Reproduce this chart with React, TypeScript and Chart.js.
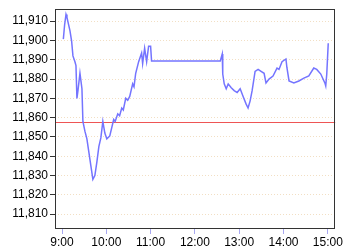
import React, { useEffect, useRef } from "react";
import { Chart, registerables } from "chart.js";

Chart.register(...registerables);

// minutes after 9:00
const times = [
  1.8, 3.5, 5.4, 6.7, 10.8, 13, 14.8, 17.5, 18.9, 20.2, 21.6, 24.3, 27, 28.3, 31, 33.7,
  36.4, 39.1, 41.8, 44.5, 47.2, 49.9, 52.6, 55.3, 58, 60.7, 64.7, 70, 72, 75.5, 78, 80.9,
  83, 86.3, 89, 91.7, 95.7, 97.5, 99.8, 103.8, 107.8, 109.2, 111.9, 114.6, 117.3, 120,
  121.3, 214.3, 217, 217.7, 219.7, 222.4, 225.1, 229.2, 233.2, 237.2, 241.3, 245.3,
  249.4, 252, 254.8, 257.5, 261.5, 265.6, 269.6, 273.7, 276.3, 280.4, 285.8, 291.2,
  293.9, 298, 303.3, 304.6, 307.5, 314, 320.8, 327.6, 334.3, 341, 345, 350.5, 356, 357.2,
  358.6, 360.6,
];
const prices = [
  11900.7, 11908, 11913.5, 11912, 11905, 11899.7, 11892, 11889, 11887, 11870, 11874,
  11883, 11875, 11858, 11853, 11849, 11842, 11835, 11828, 11830, 11837, 11845, 11849.5,
  11858, 11852, 11849, 11850.5, 11859, 11858, 11862, 11861, 11865, 11864, 11870, 11869,
  11871, 11877.5, 11876, 11883, 11889, 11893.5, 11888, 11896, 11889, 11897, 11897,
  11889.3, 11889.3, 11893, 11882.6, 11877.5, 11875, 11877.5, 11875.5, 11874, 11873, 11875,
  11871, 11867, 11865, 11868.7, 11874, 11884, 11885, 11884, 11883, 11878, 11880, 11881.6,
  11885.7, 11885, 11889, 11890.4, 11886, 11879, 11878, 11879, 11880.5, 11881.6, 11885.7,
  11885, 11882.6, 11878, 11876.4, 11882.6, 11898.6,
];
const referenceLevel = 11858;
const xTicks = [0, 60, 120, 180, 240, 300, 360];
const xTickLabels = ["9:00", "10:00", "11:00", "12:00", "13:00", "14:00", "15:00"];
const yTicks = [11810, 11820, 11830, 11840, 11850, 11860, 11870, 11880, 11890, 11900, 11910];
const xMin = -9.5;
const xMax = 370;
const yMin = 11802.3;
const yMax = 11916.2;

const refLinePlugin = {
  id: "refLine",
  beforeDatasetsDraw(chart: any) {
    const { ctx, chartArea, scales } = chart;
    const y = Math.round(scales.y.getPixelForValue(referenceLevel)) + 0.5;
    ctx.save();
    ctx.strokeStyle = "#ee5555";
    ctx.lineWidth = 1;
    ctx.beginPath();
    ctx.moveTo(chartArea.left, y);
    ctx.lineTo(chartArea.right, y);
    ctx.stroke();
    ctx.restore();
  },
};

const framePlugin = {
  id: "frame",
  afterDraw(chart: any) {
    const { ctx, chartArea } = chart;
    ctx.save();
    ctx.strokeStyle = "#333";
    ctx.lineWidth = 1;
    ctx.strokeRect(
      Math.round(chartArea.left) + 0.5,
      Math.round(chartArea.top) + 0.5,
      Math.round(chartArea.right - chartArea.left) - 1,
      Math.round(chartArea.bottom - chartArea.top) - 1
    );
    ctx.restore();
  },
};

export default function App() {
  const ref = useRef<HTMLCanvasElement | null>(null);
  useEffect(() => {
    document.body.style.margin = "0";
    const font = { family: "'Liberation Sans', Arial, sans-serif", size: 12 };
    const chart = new Chart(ref.current!, {
      type: "line",
      data: {
        datasets: [
          {
            data: times.map((t, i) => ({ x: t, y: prices[i] })),
            borderColor: "#7474ff",
            backgroundColor: "#7474ff",
            borderWidth: 1.5,
            pointRadius: 0,
            tension: 0,
          },
        ],
      },
      options: {
        animation: false,
        responsive: false,
        layout: { padding: { top: 8, right: 7, left: 0, bottom: 0 } },
        plugins: { legend: { display: false }, tooltip: { enabled: false } },
        scales: {
          x: {
            type: "linear",
            min: xMin,
            max: xMax,
            afterBuildTicks: (s: any) => {
              s.ticks = xTicks.map((v) => ({ value: v }));
            },
            afterFit: (s: any) => {
              s.height = 21;
            },
            ticks: {
              autoSkip: false,
              maxRotation: 0,
              padding: 1,
              color: "#000",
              font,
              callback: (v: any) => xTickLabels[xTicks.indexOf(Number(v))] ?? "",
            },
            grid: {
              drawOnChartArea: false,
              tickColor: "#a8a8f0",
              tickLength: 5,
            },
            border: { display: false },
          },
          y: {
            min: yMin,
            max: yMax,
            afterBuildTicks: (s: any) => {
              s.ticks = yTicks.map((v) => ({ value: v }));
            },
            afterFit: (s: any) => {
              s.width = 55;
            },
            ticks: {
              autoSkip: false,
              padding: 2,
              color: "#000",
              font,
              callback: (v: any) => Number(v).toLocaleString("en-US"),
            },
            grid: {
              color: "#f2dfc4",
              tickColor: "#333",
              tickLength: 5,
              tickBorderDash: [],
            },
            border: { display: false, dash: [1, 2] },
          },
        },
      },
      plugins: [refLinePlugin, framePlugin],
    });
    return () => chart.destroy();
  }, []);
  return (
    <div style={{ width: 344, height: 250 }}>
      <canvas ref={ref} width={344} height={250} />
    </div>
  );
}
